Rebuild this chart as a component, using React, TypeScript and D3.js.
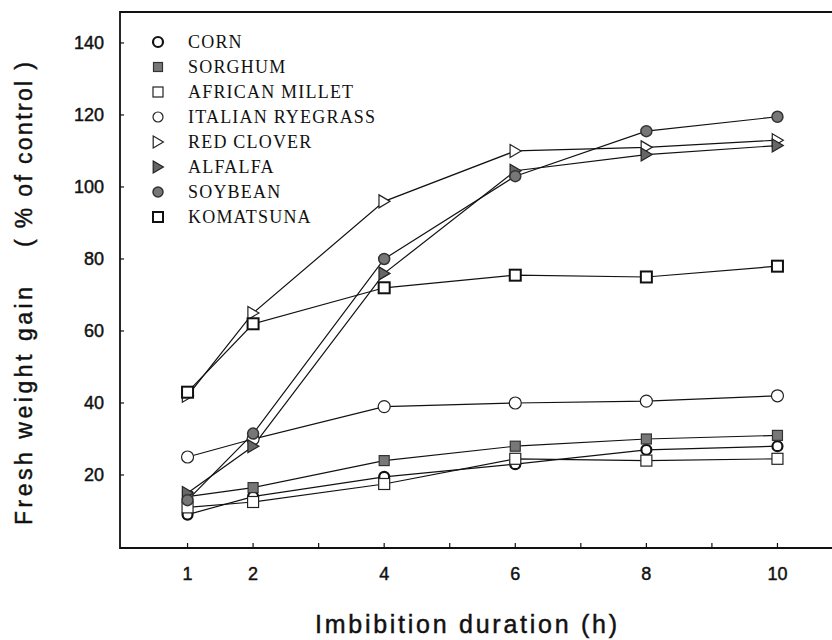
import React from "react";
import * as d3 from "d3";

const hours = [1, 2, 4, 6, 8, 10];
const corn = [9, 14, 19.5, 23, 27, 28];
const sorghum = [14, 16.5, 24, 28, 30, 31];
const africanMillet = [11, 12.5, 17.5, 24.5, 24, 24.5];
const italianRyegrass = [25, 30, 39, 40, 40.5, 42];
const redClover = [42, 65, 96, 110, 111, 113];
const alfalfa = [15, 28, 76, 104.5, 109, 111.5];
const soybean = [13, 31.5, 80, 103, 115.5, 119.5];
const komatsuna = [43, 62, 72, 75.5, 75, 78];

const seriesNames = ["CORN", "SORGHUM", "AFRICAN MILLET", "ITALIAN RYEGRASS", "RED CLOVER", "ALFALFA", "SOYBEAN", "KOMATSUNA"];
const seriesValues = [corn, sorghum, africanMillet, italianRyegrass, redClover, alfalfa, soybean, komatsuna];

const yTicks = [20, 40, 60, 80, 100, 120, 140];
const xTicks = [1, 2, 3, 4, 5, 6, 7, 8, 9, 10];
const xTickLabels = [1, 2, 4, 6, 8, 10];

type MarkStyle = { shape: string; size: number; fill: string; stroke: string; sw: number };
const styles: MarkStyle[] = [
  { shape: "circle", size: 5, fill: "#fff", stroke: "#111", sw: 2.2 },
  { shape: "square", size: 10, fill: "#777", stroke: "#333", sw: 1.2 },
  { shape: "square", size: 11, fill: "#fff", stroke: "#222", sw: 1.2 },
  { shape: "circle", size: 6, fill: "#fff", stroke: "#222", sw: 1.2 },
  { shape: "triangle", size: 13, fill: "#fff", stroke: "#222", sw: 1.2 },
  { shape: "triangle", size: 13, fill: "#666", stroke: "#222", sw: 1.2 },
  { shape: "circle", size: 5.5, fill: "#777", stroke: "#333", sw: 1.5 },
  { shape: "square", size: 11, fill: "#fff", stroke: "#111", sw: 2 },
];

function Marker({ cx, cy, s }: { cx: number; cy: number; s: MarkStyle }) {
  if (s.shape === "circle") {
    return <circle cx={cx} cy={cy} r={s.size} fill={s.fill} stroke={s.stroke} strokeWidth={s.sw} />;
  }
  if (s.shape === "square") {
    const h = s.size / 2;
    return <rect x={cx - h} y={cy - h} width={s.size} height={s.size} fill={s.fill} stroke={s.stroke} strokeWidth={s.sw} />;
  }
  const h = s.size / 2;
  const d = `M${cx - h * 0.8},${cy - h} L${cx + h * 0.9},${cy} L${cx - h * 0.8},${cy + h} Z`;
  return <path d={d} fill={s.fill} stroke={s.stroke} strokeWidth={s.sw} strokeLinejoin="miter" />;
}

export default function App() {
  const W = 832;
  const H = 640;
  const x = d3.scaleLinear().domain([0, 11]).range([122, 843]);
  const y = d3.scaleLinear().domain([0, 148.6]).range([547, 12]);
  const left = 120;
  const top = 12;
  const bottom = 548;
  const line = d3
    .line<number>()
    .x((_, i) => x(hours[i]))
    .y((v) => y(v));
  const sans = "'Liberation Sans', Arial, sans-serif";
  const serif = "'Liberation Serif', 'Times New Roman', serif";
  const thick = { stroke: "#111", strokeWidth: 0.45 };

  return (
    <svg width={W} height={H} style={{ position: "absolute", left: 0, top: 0, background: "#fff" }}>
      <rect x={0} y={0} width={W} height={H} fill="#fff" />
      {/* frame */}
      <path d={`M${x(11)},${top} L${left},${top} L${left},${bottom} L${x(11)},${bottom}`} fill="none" stroke="#111" strokeWidth={1.8} />
      {/* y ticks */}
      {yTicks.map((t) => (
        <g key={"yt" + t}>
          <line x1={left} x2={left + 4} y1={y(t)} y2={y(t)} stroke="#111" strokeWidth={1.2} />
          <text x={104} y={y(t) + 6.5} textAnchor="end" fontFamily={sans} fontSize={18} fill="#111" {...thick}>
            {t}
          </text>
        </g>
      ))}
      {/* x ticks */}
      {xTicks.map((t) => (
        <line key={"xt" + t} x1={x(t)} x2={x(t)} y1={bottom} y2={bottom - 5} stroke="#111" strokeWidth={1.2} />
      ))}
      {xTickLabels.map((t) => (
        <text key={"xl" + t} x={x(t)} y={580} textAnchor="middle" fontFamily={sans} fontSize={18} fill="#111" {...thick}>
          {t}
        </text>
      ))}
      {/* axis titles */}
      <text x={315} y={633} textLength={302} lengthAdjust="spacing" fontFamily={sans} fontSize={25} fill="#111" {...thick}>
        Imbibition duration  (h)
      </text>
      <text
        transform={`translate(32,525) rotate(-90)`}
        textLength={238}
        lengthAdjust="spacing"
        fontFamily={sans}
        fontSize={23}
        fill="#111"
        {...thick}
      >
        Fresh weight gain
      </text>
      <text
        transform={`translate(32,247) rotate(-90)`}
        textLength={185}
        lengthAdjust="spacing"
        fontFamily={sans}
        fontSize={23}
        fill="#111"
        {...thick}
      >
        ( % of control )
      </text>
      {/* lines */}
      {seriesValues.map((vals, i) => (
        <path key={"l" + i} d={line(vals) || ""} fill="none" stroke="#111" strokeWidth={1.2} />
      ))}
      {/* markers */}
      {seriesValues.map((vals, i) =>
        vals.map((v, j) => <Marker key={`m${i}-${j}`} cx={x(hours[j])} cy={y(v)} s={styles[i]} />)
      )}
      {/* legend */}
      {seriesNames.map((name, i) => (
        <g key={"lg" + i}>
          <Marker cx={158} cy={42 + i * 25} s={{ ...styles[i], size: styles[i].shape === "circle" ? Math.min(styles[i].size, 5) : styles[i].size - 1 }} />
          <text x={188} y={42 + i * 25 + 6} fontFamily={serif} fontSize={18} letterSpacing={1.2} fill="#111">
            {name}
          </text>
        </g>
      ))}
    </svg>
  );
}
